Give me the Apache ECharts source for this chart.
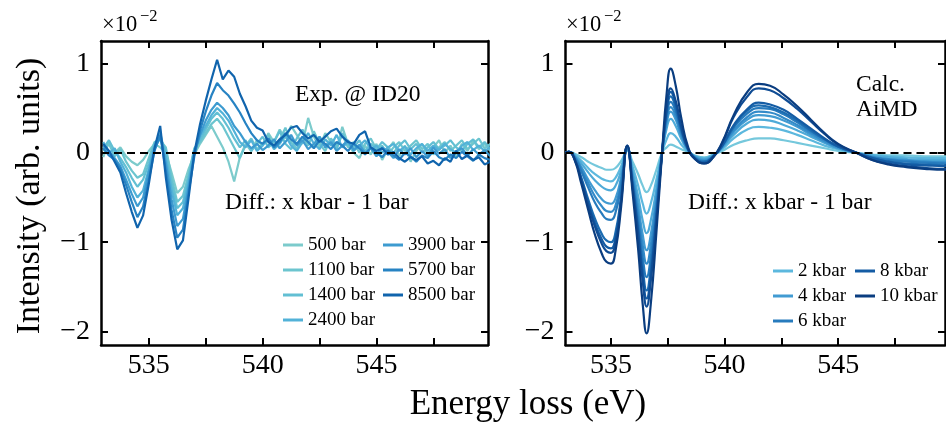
<!DOCTYPE html>
<html>
<head>
<meta charset="utf-8">
<script src="https://cdn.jsdelivr.net/npm/echarts/dist/echarts.min.js"></script>
<style>html,body{margin:0;padding:0;background:#fff}#chart{width:946px;height:426px}</style>
</head>
<body>
<div id="chart"></div>
<script>
// ---------- DATA ----------
const energyExp = [533.00,533.25,533.50,533.75,534.00,534.25,534.50,534.75,535.00,535.25,535.50,535.75,536.00,536.25,536.50,536.75,537.00,537.25,537.50,537.75,538.00,538.25,538.50,538.75,539.00,539.25,539.50,539.75,540.00,540.25,540.50,540.75,541.00,541.25,541.50,541.75,542.00,542.25,542.50,542.75,543.00,543.25,543.50,543.75,544.00,544.25,544.50,544.75,545.00,545.25,545.50,545.75,546.00,546.25,546.50,546.75,547.00,547.25,547.50,547.75,548.00,548.25,548.50,548.75,549.00,549.25,549.50,549.75,550.00];

const exp500 = [-0.05,0.12,0.00,0.06,-0.04,-0.10,-0.14,-0.08,0.02,0.10,
 0.06,0.00,-0.22,-0.45,-0.38,-0.18,-0.02,0.10,0.20,0.30,
 0.18,0.06,-0.10,-0.32,-0.05,0.10,0.02,0.14,0.08,0.22,
 0.12,0.26,0.16,0.30,0.20,0.10,0.39,0.18,0.06,0.22,
 0.12,0.04,0.29,0.10,0.00,-0.06,0.08,-0.02,0.10,-0.08,
 0.04,0.12,-0.04,0.08,-0.10,0.02,0.10,-0.02,0.06,0.14,
 0.00,0.08,-0.04,0.10,0.02,0.14,0.04,0.10,0.02];
const exp1100 = [0.02,0.10,-0.04,0.04,-0.10,-0.20,-0.28,-0.24,-0.06,0.12,
 0.14,0.06,-0.28,-0.55,-0.48,-0.24,0.05,0.12,0.22,0.32,
 0.38,0.30,0.18,0.06,-0.06,0.08,0.16,0.04,0.10,0.20,
 0.06,0.14,0.28,0.12,0.04,0.18,0.08,0.24,0.10,0.02,
 0.16,0.08,0.20,0.06,0.12,0.00,0.10,0.16,0.04,0.08,
 -0.02,0.06,0.12,0.02,0.08,0.14,0.04,0.10,-0.02,0.06,
 0.12,0.02,0.08,0.14,0.04,0.10,0.16,0.05,0.10];
const exp1400 = [0.05,0.14,0.02,-0.06,-0.16,-0.28,-0.38,-0.30,-0.12,0.10,
 0.16,0.02,-0.34,-0.62,-0.55,-0.28,0.04,0.14,0.26,0.38,
 0.45,0.38,0.28,0.16,0.06,0.14,0.02,0.10,0.18,0.06,
 0.12,0.24,0.10,0.04,0.16,0.26,0.12,0.06,0.18,0.08,
 0.14,0.04,0.22,0.10,0.06,0.14,0.02,0.10,0.04,0.12,
 0.06,0.00,0.08,0.14,0.04,0.10,0.00,0.06,0.12,0.04,
 0.08,0.14,0.06,0.02,0.10,0.15,0.06,0.12,0.04];
const exp2400 = [0.12,0.00,0.05,-0.10,-0.22,-0.38,-0.50,-0.42,-0.18,0.08,
 0.22,-0.05,-0.42,-0.70,-0.62,-0.32,0.02,0.18,0.30,0.42,
 0.50,0.44,0.36,0.24,0.12,0.06,0.14,0.02,0.08,0.16,
 0.04,0.10,0.20,0.08,0.02,0.12,0.22,0.10,0.04,0.15,
 0.08,0.20,0.06,0.12,0.02,0.08,0.14,0.04,0.08,0.00,
 0.06,0.10,0.02,0.07,-0.02,0.05,0.10,0.02,0.08,0.03,
 0.10,0.04,0.00,0.08,0.12,0.03,0.08,0.02,0.06];
const exp3900 = [0.08,0.02,-0.06,-0.15,-0.30,-0.46,-0.60,-0.50,-0.22,0.04,
 0.18,-0.12,-0.52,-0.82,-0.74,-0.38,0.00,0.20,0.36,0.48,
 0.56,0.50,0.42,0.30,0.22,0.12,0.05,0.10,0.03,0.08,
 0.15,0.05,0.12,0.20,0.08,0.14,0.04,0.10,0.18,0.06,
 0.12,0.02,0.08,0.14,0.03,0.09,0.00,0.05,-0.04,0.06,
 0.01,-0.06,0.04,-0.02,0.05,-0.05,0.02,-0.04,0.06,-0.01,
 0.04,-0.06,0.02,0.05,-0.03,0.04,-0.02,0.03,-0.04];
const exp5700 = [0.05,-0.03,-0.08,-0.18,-0.36,-0.55,-0.72,-0.60,-0.30,0.02,
 0.20,-0.20,-0.64,-0.95,-0.86,-0.44,-0.04,0.25,0.46,0.64,
 0.78,0.70,0.64,0.55,0.45,0.33,0.22,0.14,0.10,0.16,
 0.06,0.12,0.22,0.15,0.10,0.18,0.12,0.05,0.14,0.10,
 0.04,0.12,0.08,0.02,0.10,0.05,-0.02,0.06,0.00,-0.05,
 0.03,-0.03,-0.08,0.00,-0.04,-0.10,-0.03,-0.06,0.02,-0.05,
 -0.08,-0.02,-0.06,0.01,-0.04,-0.09,-0.02,-0.06,-0.08];
const exp8500 = [0.10,0.02,-0.10,-0.22,-0.45,-0.66,-0.84,-0.70,-0.35,0.05,
 0.30,-0.28,-0.75,-1.08,-0.98,-0.50,0.00,0.32,0.58,0.82,
 1.04,0.82,0.92,0.85,0.66,0.52,0.36,0.28,0.25,0.12,
 0.08,0.15,0.20,0.28,0.30,0.22,0.16,0.20,0.12,0.18,
 0.24,0.27,0.18,0.12,0.10,0.20,0.24,0.06,0.02,0.05,
 -0.02,0.01,-0.06,-0.10,-0.05,-0.08,-0.04,-0.12,-0.09,-0.14,
 -0.06,-0.10,0.02,-0.07,-0.03,-0.08,-0.05,-0.13,-0.10];

const expNames = ['500 bar','1100 bar','1400 bar','2400 bar','3900 bar','5700 bar','8500 bar'];
const expValues = [exp500, exp1100, exp1400, exp2400, exp3900, exp5700, exp8500];
const expColors = ['#7ccbcc','#6cc5cf','#62bfd3','#52b2d8','#3d9bd0','#2783c3','#1064ad'];

const energyCalc = [533.0,533.15,533.4,533.7,534.0,534.3,534.6,534.8,535.0,535.2,535.45,535.72,535.95,536.2,536.4,536.57,536.75,537.0,537.25,537.45,537.63,537.85,538.1,538.4,538.7,539.1,539.5,539.9,540.4,541.0,541.5,542.0,542.6,543.2,543.8,544.4,545.0,545.8,546.5,547.2,548.0,548.8,549.7,550.0];

const calc1 = [0,0.01,-0.01,-0.05,-0.10,-0.14,-0.17,-0.19,-0.19,-0.17,-0.09,0.02,-0.10,-0.24,-0.37,-0.44,-0.37,-0.19,0,0.06,0.09,0.07,0.04,0.01,-0.03,-0.05,-0.02,0.02,0.09,0.14,0.16,0.16,0.14,0.11,0.08,0.05,0.02,0,-0.02,-0.03,-0.03,-0.04,-0.04,-0.04];
const calc2 = [0,0.01,-0.02,-0.09,-0.17,-0.24,-0.29,-0.31,-0.32,-0.28,-0.15,0.03,-0.15,-0.37,-0.57,-0.68,-0.57,-0.30,0,0.15,0.22,0.18,0.09,0.01,-0.04,-0.06,-0.02,0.04,0.16,0.26,0.29,0.28,0.25,0.20,0.14,0.08,0.04,0,-0.03,-0.04,-0.05,-0.06,-0.06,-0.06];
const calc3 = [0,0.01,-0.03,-0.12,-0.22,-0.31,-0.38,-0.41,-0.42,-0.37,-0.20,0.04,-0.20,-0.49,-0.76,-0.90,-0.76,-0.40,0,0.27,0.38,0.30,0.15,0.02,-0.04,-0.07,-0.03,0.06,0.20,0.33,0.37,0.36,0.31,0.25,0.18,0.11,0.05,0,-0.03,-0.05,-0.07,-0.08,-0.08,-0.08];
const calc4 = [0,0.01,-0.04,-0.16,-0.30,-0.42,-0.52,-0.56,-0.57,-0.51,-0.27,0.05,-0.24,-0.59,-0.92,-1.09,-0.92,-0.48,0,0.32,0.46,0.37,0.18,0.03,-0.05,-0.08,-0.03,0.06,0.23,0.37,0.42,0.41,0.36,0.29,0.20,0.12,0.05,0,-0.04,-0.07,-0.08,-0.10,-0.10,-0.10];
const calc5 = [0,0.01,-0.04,-0.18,-0.34,-0.49,-0.60,-0.65,-0.66,-0.59,-0.32,0.05,-0.27,-0.67,-1.04,-1.24,-1.04,-0.55,0,0.36,0.51,0.41,0.20,0.03,-0.05,-0.09,-0.04,0.07,0.25,0.40,0.46,0.45,0.39,0.31,0.22,0.13,0.06,0,-0.05,-0.07,-0.09,-0.10,-0.11,-0.11];
const calc6 = [0,0.01,-0.05,-0.21,-0.39,-0.56,-0.68,-0.74,-0.75,-0.67,-0.36,0.06,-0.31,-0.75,-1.17,-1.39,-1.17,-0.61,0,0.40,0.57,0.46,0.23,0.03,-0.06,-0.10,-0.04,0.08,0.28,0.44,0.50,0.49,0.43,0.34,0.24,0.15,0.07,0,-0.05,-0.08,-0.10,-0.11,-0.12,-0.12];
const calc7 = [0,0.01,-0.07,-0.28,-0.52,-0.74,-0.91,-0.98,-1.00,-0.89,-0.48,0.07,-0.34,-0.83,-1.29,-1.54,-1.29,-0.68,0,0.44,0.63,0.50,0.25,0.04,-0.06,-0.10,-0.04,0.08,0.29,0.47,0.53,0.51,0.45,0.36,0.25,0.15,0.07,0,-0.06,-0.10,-0.12,-0.13,-0.14,-0.14];
const calc8 = [0,0.01,-0.07,-0.30,-0.56,-0.79,-0.97,-1.05,-1.07,-0.95,-0.51,0.07,-0.36,-0.88,-1.37,-1.63,-1.37,-0.72,0,0.48,0.68,0.54,0.27,0.04,-0.07,-0.11,-0.04,0.08,0.31,0.49,0.56,0.54,0.48,0.38,0.27,0.16,0.07,0,-0.06,-0.10,-0.13,-0.14,-0.15,-0.15];
const calc9 = [0,0.01,-0.07,-0.31,-0.58,-0.83,-1.02,-1.10,-1.12,-1.00,-0.54,0.08,-0.38,-0.93,-1.44,-1.72,-1.44,-0.76,0,0.50,0.72,0.58,0.29,0.04,-0.07,-0.12,-0.05,0.11,0.40,0.63,0.72,0.70,0.61,0.49,0.35,0.21,0.09,0,-0.08,-0.12,-0.15,-0.17,-0.18,-0.18];
const calc10 = [0,0.01,-0.08,-0.35,-0.64,-0.92,-1.13,-1.22,-1.24,-1.10,-0.60,0.08,-0.44,-1.09,-1.70,-2.02,-1.70,-0.89,0,0.66,0.94,0.75,0.38,0.06,-0.07,-0.12,-0.05,0.12,0.42,0.68,0.77,0.75,0.65,0.52,0.37,0.22,0.10,0,-0.08,-0.13,-0.16,-0.18,-0.19,-0.19];

const calcNames = ['1 kbar','2 kbar','3 kbar','4 kbar','5 kbar','6 kbar','7 kbar','8 kbar','9 kbar','10 kbar'];
const calcValues = [calc1,calc2,calc3,calc4,calc5,calc6,calc7,calc8,calc9,calc10];
const calcColors = ['#75c8dc','#5cb8de','#4eaad8','#419bd2','#338bc9','#277bbd','#1c6cb1','#145ca4','#0f4c94','#0a3d80'];

const xTickValues = [535, 537.5, 540, 542.5, 545, 547.5];
const xLabelValues = [535, 540, 545];
const yTickValues = [-2, -1, 0, 1];
const yLabelValues = [-2, -1, 0, 1];

// ---------- CHART ----------
const FONT = "'Liberation Serif','DejaVu Serif',serif";
const chart = echarts.init(document.getElementById('chart'), null, {renderer: 'canvas'});

const xRanges = [[532.9, 549.9], [533.0, 549.7]];
const yRange = [-2.15, 1.25];
const fmt = v => (v < 0 ? '\u2212' + Math.abs(v) : String(v));

function xAxisFor(g, pos) {
  return {
    type: 'value', gridIndex: g, position: pos, min: xRanges[g][0], max: xRanges[g][1],
    axisLine: {show: true, onZero: false, lineStyle: {color: '#000', width: 2.5}},
    axisTick: {show: true, inside: true, length: 7, lineStyle: {color: '#000', width: 2}, customValues: xTickValues},
    axisLabel: pos === 'bottom'
      ? {show: true, customValues: xLabelValues, fontFamily: FONT, fontSize: 28, color: '#000', margin: 7, formatter: fmt}
      : {show: false},
    splitLine: {show: false}
  };
}
function yAxisFor(g, pos) {
  return {
    type: 'value', gridIndex: g, position: pos, min: yRange[0], max: yRange[1],
    axisLine: {show: true, onZero: false, lineStyle: {color: '#000', width: 2.5}},
    axisTick: {show: true, inside: true, length: 7, lineStyle: {color: '#000', width: 2}, customValues: yTickValues},
    axisLabel: pos === 'left'
      ? {show: true, customValues: yLabelValues, fontFamily: FONT, fontSize: 28, color: '#000', margin: 11, formatter: fmt}
      : {show: false},
    splitLine: {show: false}
  };
}

const zeroLine = {
  silent: true, symbol: ['none', 'none'], animation: false,
  label: {show: false},
  lineStyle: {color: '#000', type: [8, 5], width: 2},
  data: [{yAxis: 0}]
};

const series = [];
expNames.forEach((n, i) => {
  series.push({
    name: n, type: 'line', xAxisIndex: 0, yAxisIndex: 0, showSymbol: false, symbol: 'none',
    data: energyExp.map((e, j) => [e, expValues[i][j]]),
    lineStyle: {color: expColors[i], width: 2.2}, itemStyle: {color: expColors[i]},
    markLine: i === expNames.length - 1 ? zeroLine : undefined
  });
});
calcNames.forEach((n, i) => {
  series.push({
    name: n, type: 'line', xAxisIndex: 2, yAxisIndex: 2, showSymbol: false, symbol: 'none', smooth: 0.5,
    data: energyCalc.map((e, j) => [e, calcValues[i][j]]),
    lineStyle: {color: calcColors[i], width: 2.2}, itemStyle: {color: calcColors[i]},
    markLine: i === calcNames.length - 1 ? zeroLine : undefined
  });
});

function legendAt(left, top, names) {
  return {
    left: left, top: top, orient: 'vertical', padding: 0, itemGap: 6,
    itemWidth: 20, itemHeight: 3, icon: 'rect', selectedMode: false,
    textStyle: {fontFamily: FONT, fontSize: 19, color: '#000'},
    data: names
  };
}

const txt = (x, y, s, size, extra) => Object.assign({
  type: 'text', x: x, y: y,
  style: {text: s, font: size + 'px ' + FONT, fill: '#000', textAlign: 'left', textVerticalAlign: 'middle'}
}, extra || {});

chart.setOption({
  animation: false,
  backgroundColor: '#fff',
  grid: [
    {left: 101, top: 41, width: 387, height: 304},
    {left: 565.5, top: 41, width: 379.5, height: 304}
  ],
  xAxis: [xAxisFor(0, 'bottom'), xAxisFor(0, 'top'), xAxisFor(1, 'bottom'), xAxisFor(1, 'top')],
  yAxis: [yAxisFor(0, 'left'), yAxisFor(0, 'right'), yAxisFor(1, 'left'), yAxisFor(1, 'right')],
  legend: [
    legendAt(283, 235.5, expNames.slice(0, 4)),
    legendAt(383, 235.5, expNames.slice(4)),
    legendAt(773, 261.5, ['2 kbar', '4 kbar', '6 kbar']),
    legendAt(855, 261.5, ['8 kbar', '10 kbar'])
  ],
  graphic: [
    txt(102, 25, '\u00d710', 22.5),
    txt(140, 17, '\u22122', 16.5),
    txt(566, 25, '\u00d710', 22.5),
    txt(604, 17, '\u22122', 16.5),
    txt(295, 95, 'Exp. @ ID20', 23.5),
    txt(225, 203, 'Diff.: x kbar - 1 bar', 23.5),
    txt(688, 203, 'Diff.: x kbar - 1 bar', 23.5),
    txt(856, 85, 'Calc.', 23.5),
    txt(856, 110, 'AiMD', 23.5),
    {type: 'text', x: 30, y: 196, rotation: Math.PI / 2,
     style: {text: 'Intensity (arb. units)', font: '34px ' + FONT, fill: '#000', textAlign: 'center', textVerticalAlign: 'middle'}},
    {type: 'text', x: 528, y: 405,
     style: {text: 'Energy loss (eV)', font: '35px ' + FONT, fill: '#000', textAlign: 'center', textVerticalAlign: 'middle'}}
  ],
  series: series
});
</script>
</body>
</html>
